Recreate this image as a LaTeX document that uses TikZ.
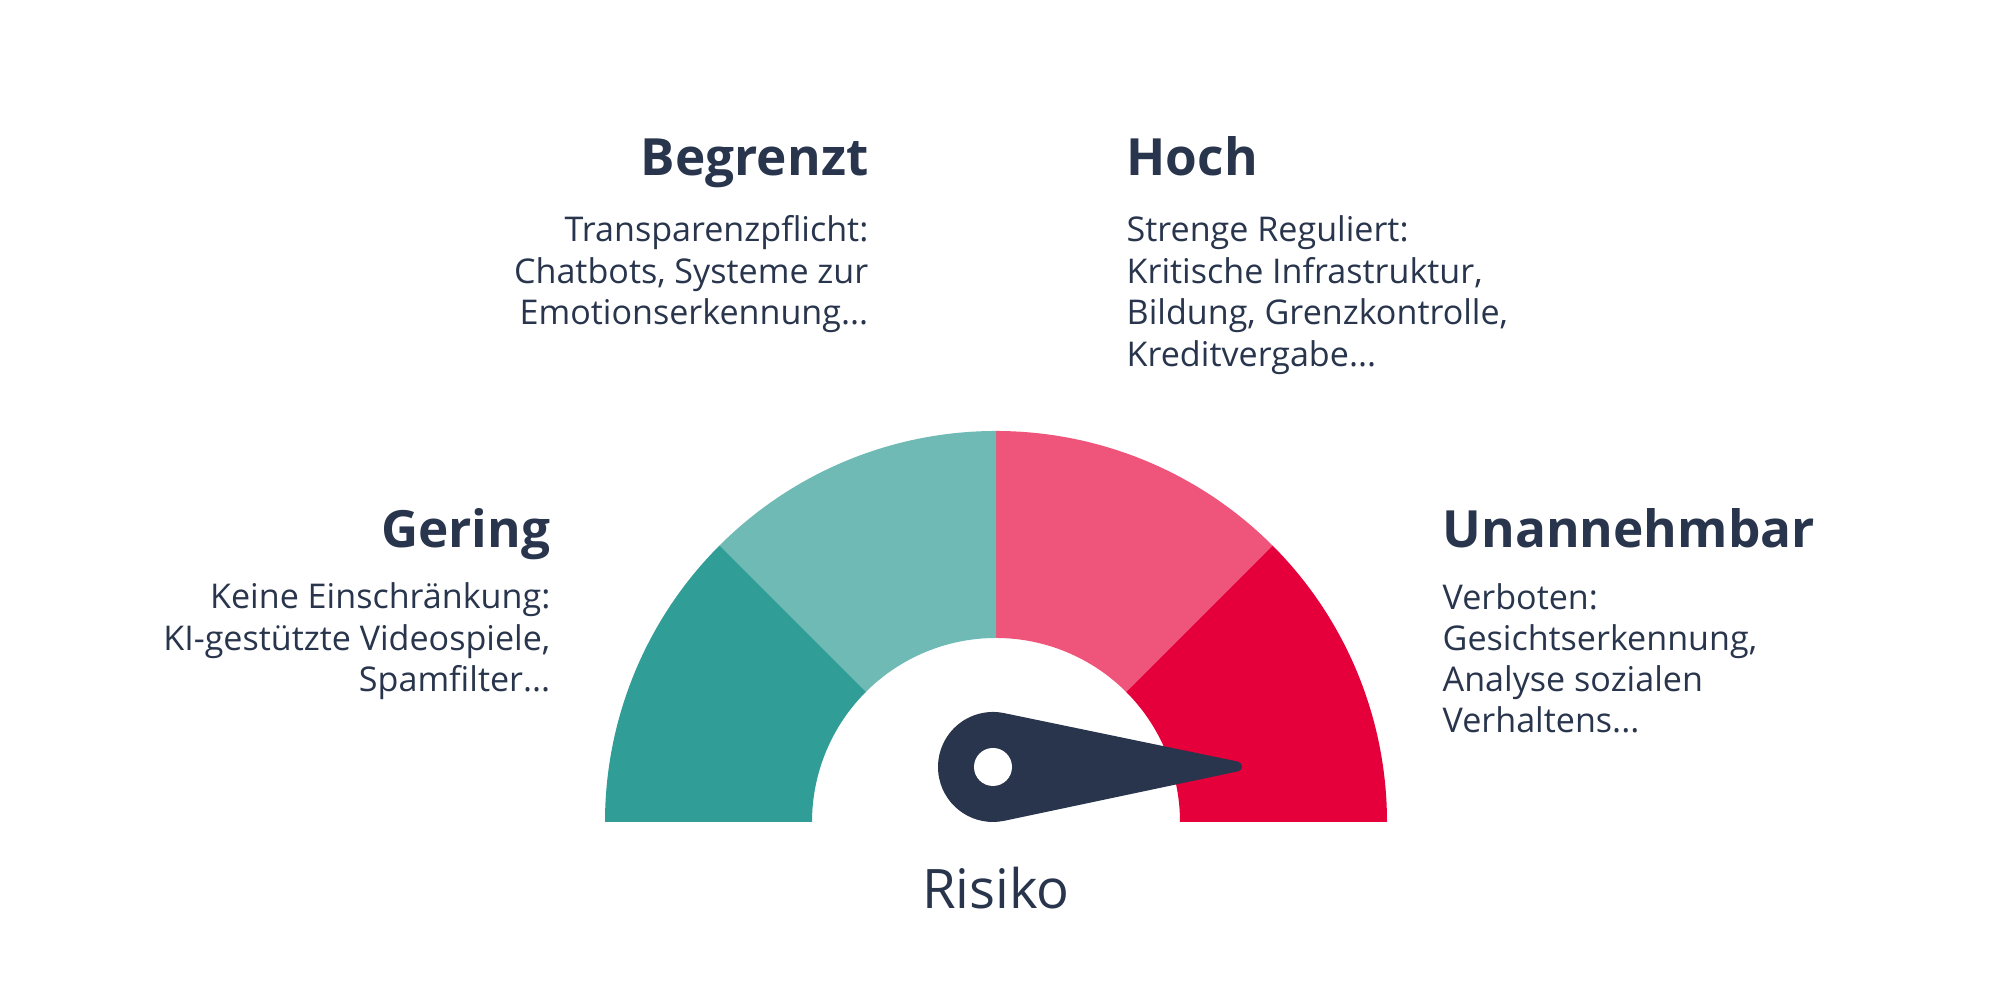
\documentclass[tikz,border=0pt]{standalone}
\usepackage{fontspec}
\setmainfont{Open Sans}
\definecolor{navy}{HTML}{28354C}
\definecolor{tealdark}{HTML}{309D96}
\definecolor{teallight}{HTML}{6FBAB4}
\definecolor{pinkseg}{HTML}{EF557B}
\definecolor{redseg}{HTML}{E5003C}
\tikzset{
  head/.style={inner sep=0pt, text=navy, font=\bfseries\fontsize{14.6}{17}\selectfont},
  body/.style={inner sep=0pt, text=navy, font=\fontsize{9.7}{11.8}\selectfont}
}
\begin{document}
\begin{tikzpicture}
\useasboundingbox (0,0) rectangle (19.99,10);
\fill[white] (0,0) rectangle (19.99,10);
\coordinate (G) at (9.96,1.78);
% gauge segments
\fill[redseg]    ([shift={(0:3.91)}]G) arc[start angle=0, end angle=45, radius=3.91] -- ([shift={(45:1.84)}]G) arc[start angle=45, end angle=0, radius=1.84] -- cycle;
\fill[pinkseg]   ([shift={(45:3.91)}]G) arc[start angle=45, end angle=90, radius=3.91] -- ([shift={(90:1.84)}]G) arc[start angle=90, end angle=45, radius=1.84] -- cycle;
\fill[teallight] ([shift={(90:3.91)}]G) arc[start angle=90, end angle=135, radius=3.91] -- ([shift={(135:1.84)}]G) arc[start angle=135, end angle=90, radius=1.84] -- cycle;
\fill[tealdark]  ([shift={(135:3.91)}]G) arc[start angle=135, end angle=180, radius=3.91] -- ([shift={(180:1.84)}]G) arc[start angle=180, end angle=135, radius=1.84] -- cycle;
% needle
\coordinate (H) at (9.93,2.33);
\coordinate (T) at (12.37,2.335);
\fill[navy] ([shift={(78.17:0.55)}]H) -- ([shift={(78.17:0.05)}]T) arc[start angle=78.17, end angle=-78.17, radius=0.05] -- ([shift={(-78.17:0.55)}]H) arc[start angle=-78.17, end angle=-281.83, radius=0.55] -- cycle;
\fill[white] (H) circle[radius=0.19];
% labels
\node[head, anchor=base east] (begr) at (8.69,8.24) {Begrenzt};
\node[body, anchor=base east] (begr1) at (8.69,7.58) {Transparenzpflicht:};
\node[body, anchor=base east] (begr2) at (8.69,7.165) {Chatbots, Systeme zur};
\node[body, anchor=base east] (begr3) at (8.69,6.75) {Emotionserkennung...};
\node[head, anchor=base west] (hoch) at (11.26,8.24) {Hoch};
\node[body, anchor=base west] (hoch1) at (11.26,7.58) {Strenge Reguliert:};
\node[body, anchor=base west] (hoch2) at (11.26,7.165) {Kritische Infrastruktur,};
\node[body, anchor=base west] (hoch3) at (11.26,6.75) {Bildung, Grenzkontrolle,};
\node[body, anchor=base west] (hoch4) at (11.26,6.335) {Kreditvergabe...};
\node[head, anchor=base east] (ger) at (5.51,4.52) {Gering};
\node[body, anchor=base east] (ger1) at (5.51,3.91) {Keine Einschränkung:};
\node[body, anchor=base east] (ger2) at (5.51,3.495) {KI-gestützte Videospiele,};
\node[body, anchor=base east] (ger3) at (5.51,3.08) {Spamfilter...};
\node[head, anchor=base west] (una) at (14.42,4.52) {Unannehmbar};
\node[body, anchor=base west] (una1) at (14.42,3.90) {Verboten:};
\node[body, anchor=base west] (una2) at (14.42,3.49) {Gesichtserkennung,};
\node[body, anchor=base west] (una3) at (14.42,3.08) {Analyse sozialen};
\node[body, anchor=base west] (una4) at (14.42,2.67) {Verhaltens...};
\node[inner sep=0pt, text=navy, font=\fontsize{15.5}{18}\selectfont, anchor=base] (risiko) at (9.96,0.91) {Risiko};
\end{tikzpicture}
\end{document}
